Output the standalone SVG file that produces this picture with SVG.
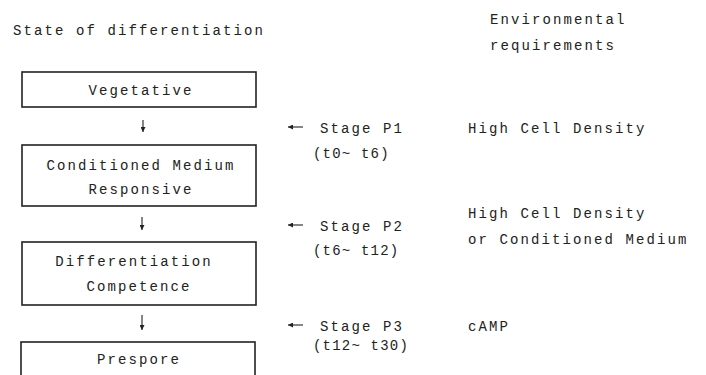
<svg xmlns="http://www.w3.org/2000/svg" width="706" height="375" viewBox="0 0 706 375">
<style>
text{font-family:"Liberation Mono","DejaVu Sans Mono",monospace;font-size:14px;letter-spacing:2.1px;fill:#222}
.c{text-anchor:middle}
.t{letter-spacing:1.2px}
.box{fill:#fff;stroke:#222;stroke-width:1.6}
.ln{stroke:#222;stroke-width:1.1;fill:none}
</style>
<defs>
<marker id="ah" viewBox="0 0 6 6" refX="6" refY="3" markerWidth="5" markerHeight="5" orient="auto" markerUnits="userSpaceOnUse">
<path d="M0,0 L6,3 L0,6 Z" fill="#222"/>
</marker>
</defs>
<rect width="706" height="375" fill="#fff"/>
<text x="13" y="35">State of differentiation</text>
<text x="490" y="24">Environmental</text>
<text x="490" y="50">requirements</text>
<g id="vegetative"><rect class="box" x="22" y="72" width="234" height="35"/><text class="c" x="141" y="95">Vegetative</text></g>
<g id="conditioned"><rect class="box" x="22" y="145" width="234" height="61"/><text class="c" x="141" y="170">Conditioned Medium</text><text class="c" x="141" y="194">Responsive</text></g>
<g id="competence"><rect class="box" x="22" y="242" width="234" height="63"/><text class="c" x="134" y="266">Differentiation</text><text class="c" x="139" y="291">Competence</text></g>
<g id="prespore"><rect class="box" x="21" y="342" width="234" height="40"/><text class="c" x="139" y="364">Prespore</text></g>
<g id="connectors">
<line class="ln" x1="143" y1="120" x2="143" y2="132" marker-end="url(#ah)"/>
<line class="ln" x1="142" y1="217" x2="142" y2="230" marker-end="url(#ah)"/>
<line class="ln" x1="142" y1="315" x2="142" y2="330" marker-end="url(#ah)"/>
<line class="ln" x1="303" y1="127" x2="288" y2="127" marker-end="url(#ah)"/>
<line class="ln" x1="303" y1="225" x2="288" y2="225" marker-end="url(#ah)"/>
<line class="ln" x1="303" y1="325" x2="288" y2="325" marker-end="url(#ah)"/>
</g>
<g id="p1"><text x="320" y="133">Stage P1</text><text class="t" x="313" y="158">(t0~ t6)</text><text x="468" y="133">High Cell Density</text></g>
<g id="p2"><text x="320" y="231">Stage P2</text><text class="t" x="313" y="255">(t6~ t12)</text><text x="468" y="218">High Cell Density</text><text x="468" y="244">or Conditioned Medium</text></g>
<g id="p3"><text x="320" y="331">Stage P3</text><text class="t" x="313" y="350">(t12~ t30)</text><text x="468" y="331">cAMP</text></g>
</svg>
